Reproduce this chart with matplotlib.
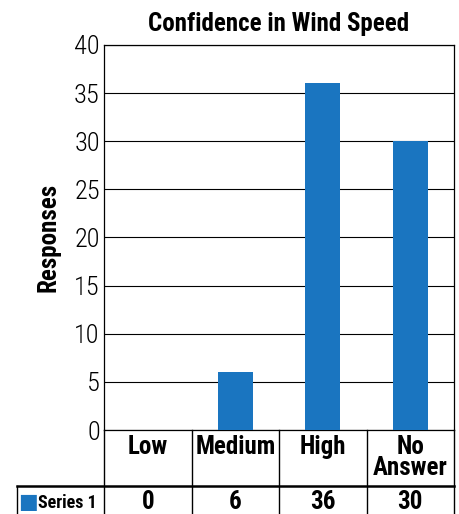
import matplotlib.pyplot as plt
import matplotlib.transforms as mtransforms

categories = ["Low", "Medium", "High", "No\nAnswer"]
values = [0, 6, 36, 30]
series_name = "Series 1"
title = "Confidence in Wind Speed"
ylabel = "Responses"

plt.rcParams["font.family"] = ["Roboto Condensed", "DejaVu Sans"]

blue = "#1a75c0"
fig = plt.figure(figsize=(4.59, 5.14), dpi=100)
ax = fig.add_axes([0.2266, 0.1634, 0.7625, 0.7491])

x = list(range(len(categories)))
ax.bar(x, values, width=0.4, color=blue, zorder=3)
ax.set_xlim(-0.5, len(categories) - 0.5)
ax.set_ylim(0, 40)
ax.set_yticks(range(0, 41, 5))
ax.tick_params(axis="y", labelsize=19, length=0, pad=3)
for lbl in ax.get_yticklabels():
    lbl.set_fontweight(300)
ax.set_xticks([])
ax.grid(axis="y", color="black", linewidth=0.8, zorder=1)
for s in ax.spines.values():
    s.set_linewidth(0.9)
ax.set_title(title, fontsize=18, fontweight="bold", pad=10)
ax.set_ylabel(ylabel, fontsize=18, fontweight="bold", labelpad=10)

# data table below the axes
trans = mtransforms.blended_transform_factory(ax.transData, ax.transAxes)
h_ax = 0.7491 * 514  # axes height in px
row1 = -56 / h_ax
row2 = -84 / h_ax
for i in range(len(categories) + 1):
    ax.plot([i - 0.5, i - 0.5], [0, row2 - 0.01], transform=trans,
            color="black", lw=1.0, clip_on=False)
ax.plot([-1.5, len(categories) - 0.5], [row1, row1], transform=trans,
        color="black", lw=1.8, clip_on=False)
ax.plot([-1.5, -1.5], [row1, row2 - 0.01], transform=trans,
        color="black", lw=1.0, clip_on=False)
for i, (c, v) in enumerate(zip(categories, values)):
    ax.text(i, -5 / h_ax, c, transform=trans, ha="center", va="top",
            fontsize=18, fontweight="bold", linespacing=0.85)
    ax.text(i, (row1 + row2) / 2 - 0.006, str(v), transform=trans, ha="center",
            va="center", fontsize=18, fontweight="bold")
ax.text(-1.48, (row1 + row2) / 2 - 0.004, "\u25A0", transform=trans, ha="left",
        va="center", fontsize=15, color=blue, family="DejaVu Sans")
ax.text(-1.25, (row1 + row2) / 2 - 0.008, series_name, transform=trans, ha="left",
        va="center", fontsize=13, fontweight="bold")

fig.savefig("out.png", dpi=100)
